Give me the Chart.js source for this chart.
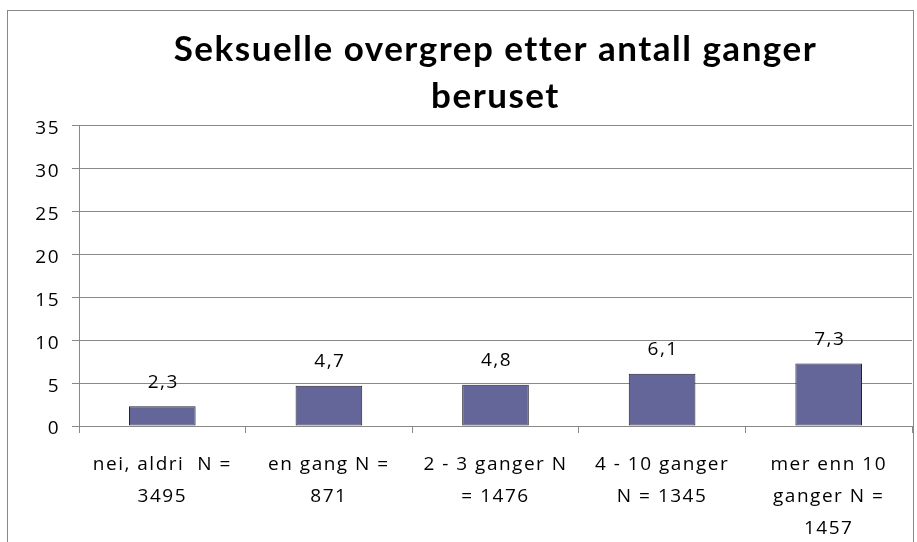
<!DOCTYPE html>
<html>
<head>
<meta charset="utf-8">
<script src="https://cdn.jsdelivr.net/npm/chart.js@4.4.0/dist/chart.umd.min.js"></script>
<style>
  html, body { margin: 0; padding: 0; background: #fff; }
  #ramme { position: absolute; left: 7px; top: 10px; width: 905px; height: 540px; border: 1px solid #888; border-bottom: none; }
  #wrap { position: absolute; left: 0; top: 0; width: 917px; height: 542px; }
</style>
</head>
<body>
<div id="ramme"></div>
<div id="wrap"><canvas id="graf" width="917" height="542"></canvas></div>
<script>
// kategorier (flere linjer per etikett)
const kategorier = [
  ['nei, aldri  N =', '3495'],
  ['en gang N =', '871'],
  ['2 - 3 ganger N', '= 1476'],
  ['4 - 10 ganger', 'N = 1345'],
  ['mer enn 10', 'ganger N =', '1457']
];
const verdier = [2.3, 4.7, 4.8, 6.1, 7.3];
const yTicks = [0, 5, 10, 15, 20, 25, 30, 35];
const tittel = ['Seksuelle overgrep etter antall ganger', 'beruset'];

const tittelFont = 'Lato, "Open Sans", sans-serif';
const tekstFont = '"Open Sans", Lato, sans-serif';
const sperring = '1.5px';

// litt sperret tekst, som i originalen
const sperretTekst = {
  id: 'sperretTekst',
  beforeInit(chart) { chart.ctx.letterSpacing = sperring; },
  beforeUpdate(chart) { chart.ctx.letterSpacing = sperring; },
  beforeDraw(chart) { chart.ctx.letterSpacing = sperring; }
};

// skriver verdien over hver søyle
const verdiEtiketter = {
  id: 'verdiEtiketter',
  afterDatasetsDraw(chart) {
    const ctx = chart.ctx;
    const meta = chart.getDatasetMeta(0);
    ctx.save();
    ctx.letterSpacing = sperring;
    ctx.font = '19px ' + tekstFont;
    ctx.fillStyle = '#000';
    ctx.textAlign = 'center';
    ctx.textBaseline = 'middle';
    meta.data.forEach((bar, i) => {
      ctx.fillText(verdier[i].toFixed(1).replace('.', ','), bar.x + 1, bar.y - 24);
    });
    ctx.restore();
  }
};

const ctx = document.getElementById('graf').getContext('2d');
new Chart(ctx, {
  type: 'bar',
  data: {
    labels: kategorier,
    datasets: [{
      data: verdier,
      backgroundColor: '#646699',
      borderColor: '#22222e',
      borderWidth: 1,
      borderSkipped: false,
      categoryPercentage: 1.0,
      barPercentage: 0.4
    }]
  },
  options: {
    responsive: false,
    animation: false,
    devicePixelRatio: 1,
    layout: { padding: { left: 0, right: 5, top: 0, bottom: 0 } },
    plugins: {
      legend: { display: false },
      tooltip: { enabled: false },
      title: {
        display: true,
        fullSize: false,
        text: tittel,
        color: '#000',
        font: { family: tittelFont, size: 35, weight: 'bold', lineHeight: 1.34 },
        padding: { top: 26, bottom: 6 }
      }
    },
    scales: {
      x: {
        grid: { display: true, drawOnChartArea: false, color: '#888', tickLength: 7, offset: true },
        border: { color: '#888' },
        ticks: {
          color: '#000',
          font: { family: tekstFont, size: 19, lineHeight: 1.7 },
          maxRotation: 0,
          autoSkip: false,
          padding: 15
        },
        afterFit(scale) { scale.height = 116; }
      },
      y: {
        min: 0,
        max: 35,
        afterBuildTicks(scale) { scale.ticks = yTicks.map(v => ({ value: v })); },
        grid: { color: '#888', tickLength: 7 },
        border: { color: '#888' },
        ticks: {
          color: '#000',
          font: { family: tekstFont, size: 19 },
          padding: 12,
          labelOffset: 3
        },
        afterFit(scale) { scale.width = 79; }
      }
    }
  },
  plugins: [sperretTekst, verdiEtiketter]
});
</script>
</body>
</html>
